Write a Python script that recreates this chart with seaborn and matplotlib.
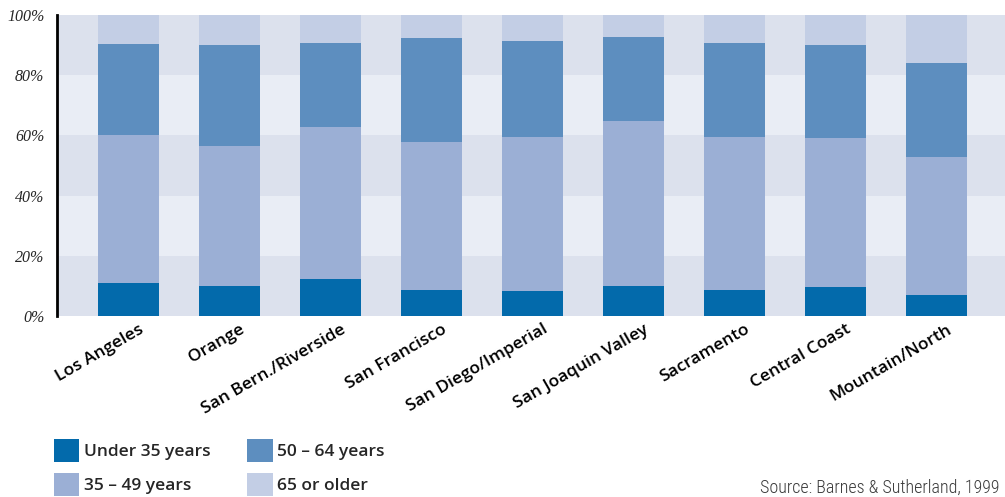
import numpy as np
import pandas as pd
import matplotlib
matplotlib.use("Agg")
import matplotlib.pyplot as plt
import matplotlib.transforms as mtransforms
from matplotlib.patches import Patch
from matplotlib import font_manager
import seaborn as sns

# Regions and age-group shares (percent of each region's total)
regions = ["Los Angeles", "Orange", "San Bern./Riverside", "San Francisco",
           "San Diego/Imperial", "San Joaquin Valley", "Sacramento",
           "Central Coast", "Mountain/North"]
under_35 = [11.0, 10.0, 12.3, 8.6, 8.3, 10.0, 8.6, 9.6, 7.0]
age_35_49 = [49.1, 46.5, 50.5, 49.2, 51.2, 54.8, 50.9, 49.5, 45.8]
age_50_64 = [30.3, 33.5, 27.9, 34.6, 31.9, 27.9, 31.2, 30.9, 31.3]
age_65_up = [9.6, 10.0, 9.3, 7.6, 8.6, 7.3, 9.3, 10.0, 15.9]

series_names = ["Under 35 years", "35 – 49 years", "50 – 64 years", "65 or older"]
series_colors = ["#036aab", "#9bafd5", "#5d8ebf", "#c3cee5"]
y_ticks = [0, 20, 40, 60, 80, 100]
y_tick_labels = ["0%", "20%", "40%", "60%", "80%", "100%"]
source_note = "Source: Barnes & Sutherland, 1999"

df = pd.DataFrame({"region": regions, series_names[0]: under_35,
                   series_names[1]: age_35_49, series_names[2]: age_50_64,
                   series_names[3]: age_65_up})
cum = df[series_names].cumsum(axis=1)
cum["region"] = df["region"]

sns.set_theme(style="white")
plt.rcParams["font.family"] = ["Open Sans", "DejaVu Sans"]

fig = plt.figure(figsize=(10.05, 4.97), dpi=100)
ax = fig.add_axes([57 / 1005, 1 - 316 / 497, 1 - 57 / 1005, 301 / 497])

# alternating horizontal bands behind the bars
band_colors = ["#dce1ed", "#e9edf5"]
for i in range(5):
    ax.axhspan(i * 20, (i + 1) * 20, color=band_colors[i % 2], lw=0, zorder=0)

# stacked bars: draw cumulative totals from the top layer down
for name, color in reversed(list(zip(series_names, series_colors))):
    sns.barplot(data=cum, x="region", y=name, order=regions, color=color,
                saturation=1, width=0.6, errorbar=None, linewidth=0,
                edgecolor="none", ax=ax, zorder=2)

ax.set_xlim(-0.71, 8.68)
ax.set_ylim(0, 100)
ax.set_xlabel("")
ax.set_ylabel("")
ax.set_yticks(y_ticks)
ax.set_yticklabels(y_tick_labels, fontfamily="Liberation Serif",
                   fontstyle="italic", fontsize=11.5)
ax.tick_params(axis="y", length=0, pad=9)
ax.tick_params(axis="x", length=0, pad=4)
for s in ["top", "right", "bottom"]:
    ax.spines[s].set_visible(False)
ax.spines["left"].set_color("black")
ax.spines["left"].set_linewidth(2)
ax.spines["left"].set_zorder(5)
ax.grid(False)

offset = mtransforms.ScaledTranslation(10 / 100, 0, fig.dpi_scale_trans)
for lab in ax.get_xticklabels():
    lab.set_rotation(30)
    lab.set_ha("right")
    lab.set_rotation_mode("anchor")
    lab.set_fontsize(12.5)
    lab.set_fontweight("semibold")
    lab.set_color("black")
    lab.set_transform(lab.get_transform() + offset)

handles = [Patch(facecolor=c, edgecolor="none", label=n)
           for n, c in zip(series_names, series_colors)]
fig.legend(handles=handles, ncol=2, loc="upper left",
           bbox_to_anchor=(54 / 1005, 1 - 439 / 497), frameon=False,
           prop={"weight": "semibold", "size": 12.5},
           handlelength=1.45, handleheight=1.7, handletextpad=0.25,
           labelspacing=0.6, columnspacing=2.15, borderpad=0, borderaxespad=0)

# condensed face for the source line, if one is installed
installed = {f.name for f in font_manager.fontManager.ttflist}
narrow = [f for f in ["Roboto Condensed", "Open Sans Condensed",
                      "Liberation Sans Narrow", "Noto Sans Display"]
          if f in installed]
src_family = (narrow[:1] or ["Roboto"]) + ["DejaVu Sans"]
fig.text(760 / 1005, 1 - 493 / 497, source_note,
         fontsize=13 if narrow else 11.5, fontweight="light",
         family=src_family, color="#3a3a3a", ha="left", va="baseline")

fig.savefig("out.png", dpi=100)
